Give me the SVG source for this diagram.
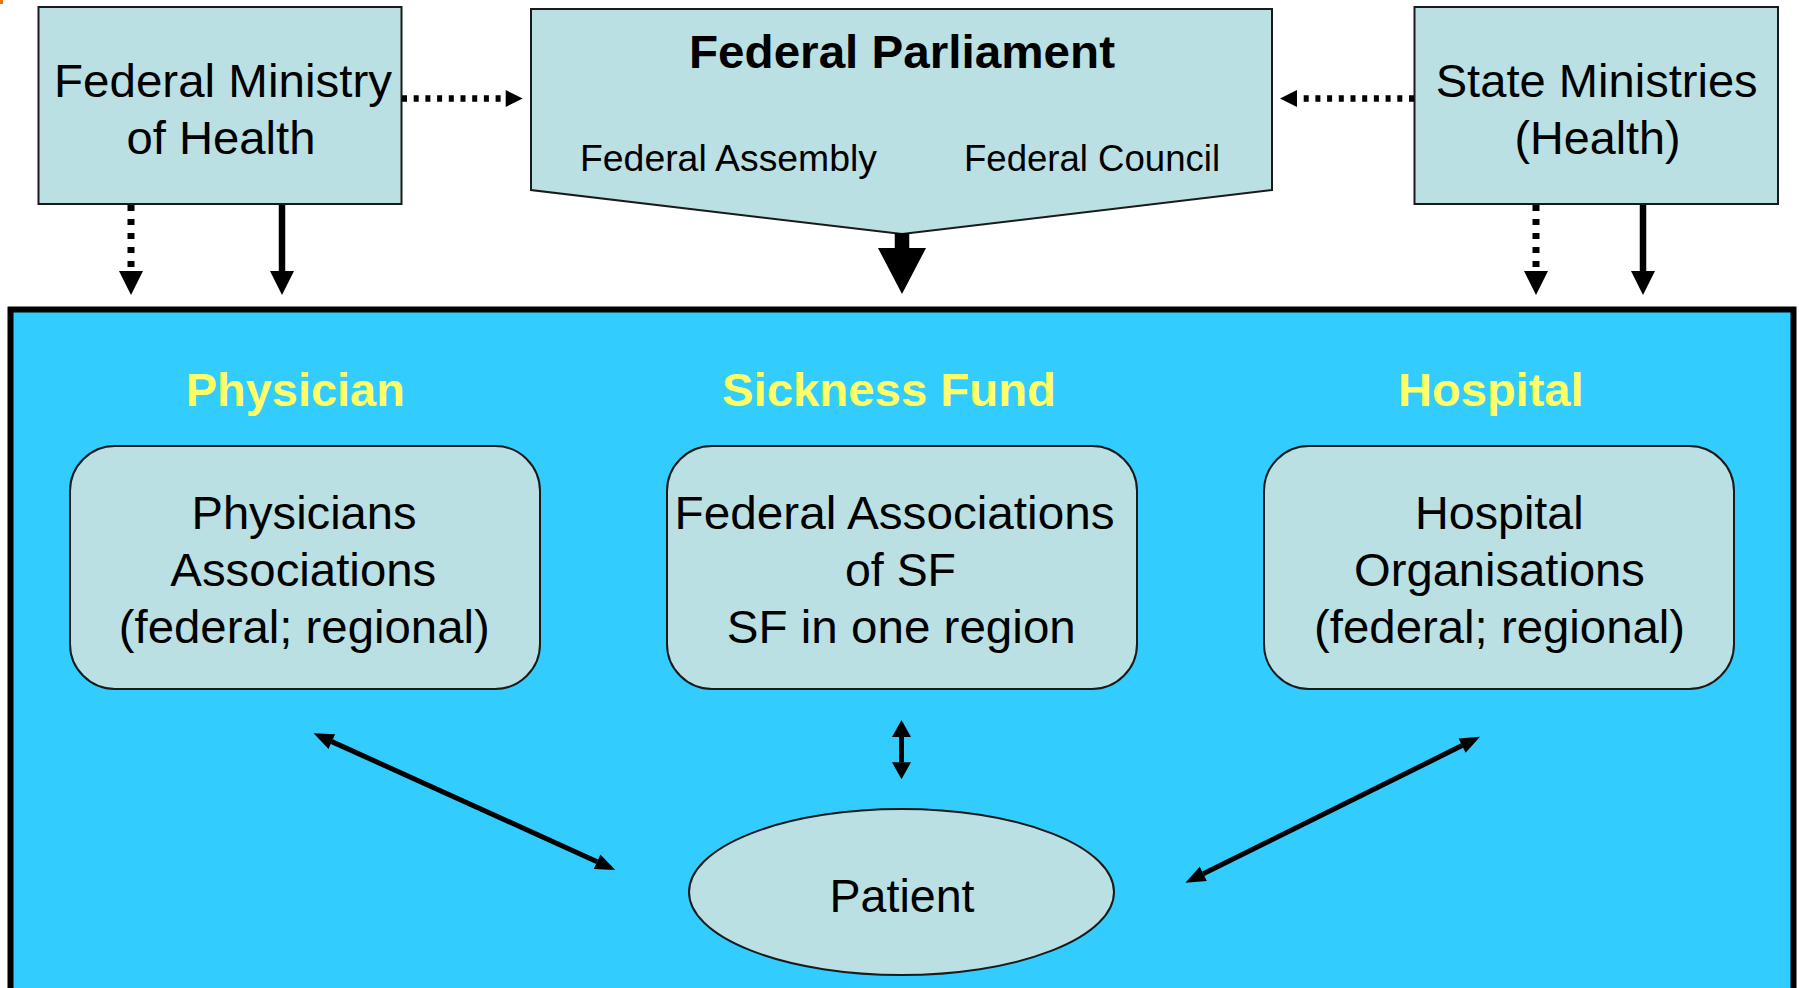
<svg xmlns="http://www.w3.org/2000/svg" width="1799" height="988" viewBox="0 0 1799 988">
  <style>
    .box { fill: #BAE0E3; stroke: #1a1a1a; stroke-width: 2; }
    .t { font-family: "Liberation Sans", Arial, sans-serif; fill: #000; text-anchor: middle; }
    .big { font-size: 46.5px; }
    .small { font-size: 36px; }
    .bold { font-weight: bold; }
    .hdr { font-family: "Liberation Sans", Arial, sans-serif; font-weight: bold; font-size: 47px; fill: #FFFF66; text-anchor: middle; }
    .solid { stroke: #000; stroke-width: 6.5; fill: none; }
    .dotv { stroke: #000; stroke-width: 7; fill: none; stroke-dasharray: 6 8; }
    .doth { stroke: #000; stroke-width: 6.5; fill: none; stroke-dasharray: 5 6.7; }
    .thin { stroke: #000; stroke-width: 5; fill: none; }
  </style>
  <defs>
    <marker id="headDown" markerUnits="userSpaceOnUse" markerWidth="24" markerHeight="24" refX="0" refY="12" orient="auto" overflow="visible">
      <path d="M0,0 L24,12 L0,24 Z" fill="#000"/>
    </marker>
    <marker id="headH" markerUnits="userSpaceOnUse" markerWidth="17" markerHeight="17" refX="0" refY="8.5" orient="auto" overflow="visible">
      <path d="M0,0 L17,8.5 L0,17 Z" fill="#000"/>
    </marker>
    <marker id="headD" markerUnits="userSpaceOnUse" markerWidth="20" markerHeight="16" refX="0" refY="8" orient="auto-start-reverse" overflow="visible">
      <path d="M0,0 L20,8 L0,16 Z" fill="#000"/>
    </marker>
    <marker id="headV" markerUnits="userSpaceOnUse" markerWidth="17" markerHeight="19" refX="0" refY="9.5" orient="auto-start-reverse" overflow="visible">
      <path d="M0,0 L17,9.5 L0,19 Z" fill="#000"/>
    </marker>
  </defs>

  <rect x="0" y="0" width="3" height="4" fill="#F07010"/>

  <g id="system">
    <rect x="10.5" y="309.5" width="1783" height="720" fill="#33CCFF" stroke="#000" stroke-width="6"/>
  </g>

  <g id="ministry">
    <rect class="box" x="38.5" y="7" width="363" height="197"/>
    <text class="t big" x="223" y="97" textLength="338" lengthAdjust="spacingAndGlyphs">Federal Ministry</text>
    <text class="t big" x="221" y="154" textLength="189" lengthAdjust="spacingAndGlyphs">of Health</text>
  </g>

  <g id="parliament">
    <polygon class="box" points="531,9 1272,9 1272,190 902,234 531,190"/>
    <text class="t big bold" x="902" y="68" textLength="426" lengthAdjust="spacingAndGlyphs">Federal Parliament</text>
    <text class="t small" x="728.5" y="171" textLength="297" lengthAdjust="spacingAndGlyphs">Federal Assembly</text>
    <text class="t small" x="1092" y="171" textLength="256" lengthAdjust="spacingAndGlyphs">Federal Council</text>
  </g>

  <g id="state">
    <rect class="box" x="1414.5" y="7" width="363.5" height="197"/>
    <text class="t big" x="1596.7" y="97" textLength="322" lengthAdjust="spacingAndGlyphs">State Ministries</text>
    <text class="t big" x="1597.5" y="154" textLength="166" lengthAdjust="spacingAndGlyphs">(Health)</text>
  </g>

  <g id="physician">
    <text class="hdr" x="295.3" y="406" textLength="219" lengthAdjust="spacingAndGlyphs">Physician</text>
    <rect class="box" x="70" y="446" width="470" height="243" rx="45" ry="45"/>
    <text class="t big" x="304" y="529" textLength="225" lengthAdjust="spacingAndGlyphs">Physicians</text>
    <text class="t big" x="303.3" y="586" textLength="266" lengthAdjust="spacingAndGlyphs">Associations</text>
    <text class="t big" x="304.3" y="643" textLength="371" lengthAdjust="spacingAndGlyphs">(federal; regional)</text>
  </g>

  <g id="sickness-fund">
    <text class="hdr" x="889" y="406" textLength="334" lengthAdjust="spacingAndGlyphs">Sickness Fund</text>
    <rect class="box" x="667" y="446" width="470" height="243" rx="45" ry="45"/>
    <text class="t big" x="894.6" y="529" textLength="440" lengthAdjust="spacingAndGlyphs">Federal Associations</text>
    <text class="t big" x="900.5" y="586" textLength="111" lengthAdjust="spacingAndGlyphs">of SF</text>
    <text class="t big" x="901.3" y="643" textLength="349" lengthAdjust="spacingAndGlyphs">SF in one region</text>
  </g>

  <g id="hospital">
    <text class="hdr" x="1490.8" y="406" textLength="185.6" lengthAdjust="spacingAndGlyphs">Hospital</text>
    <rect class="box" x="1264" y="446" width="470" height="243" rx="45" ry="45"/>
    <text class="t big" x="1499.3" y="529" textLength="168.6" lengthAdjust="spacingAndGlyphs">Hospital</text>
    <text class="t big" x="1499.5" y="586" textLength="290.8" lengthAdjust="spacingAndGlyphs">Organisations</text>
    <text class="t big" x="1499.6" y="643" textLength="371" lengthAdjust="spacingAndGlyphs">(federal; regional)</text>
  </g>

  <g id="patient">
    <ellipse class="box" cx="901.5" cy="892" rx="212.5" ry="83"/>
    <text class="t big" x="902" y="911.5" textLength="145" lengthAdjust="spacingAndGlyphs">Patient</text>
  </g>

  <g id="connectors">
    <line class="doth" x1="402" y1="98.5" x2="505.7" y2="98.5" marker-end="url(#headH)"/>
    <line class="doth" x1="1414" y1="98.5" x2="1297" y2="98.5" marker-end="url(#headH)"/>
    <line class="dotv" x1="131" y1="205" x2="131" y2="271" marker-end="url(#headDown)"/>
    <line class="solid" x1="282" y1="205" x2="282" y2="271" marker-end="url(#headDown)"/>
    <line class="dotv" x1="1536" y1="205" x2="1536" y2="271" marker-end="url(#headDown)"/>
    <line class="solid" x1="1643" y1="205" x2="1643" y2="271" marker-end="url(#headDown)"/>
    <path d="M894.75,233 H909.25 V248 H926 L902,294 L878,248 H894.75 Z" fill="#000"/>
    <line class="thin" x1="331.8" y1="741.6" x2="597.1" y2="861.7" marker-start="url(#headD)" marker-end="url(#headD)"/>
    <line class="thin" x1="1203.3" y1="873.8" x2="1462.1" y2="745.6" marker-start="url(#headD)" marker-end="url(#headD)"/>
    <line class="thin" x1="901.5" y1="737" x2="901.5" y2="762.3" marker-start="url(#headV)" marker-end="url(#headV)"/>
  </g>
</svg>
